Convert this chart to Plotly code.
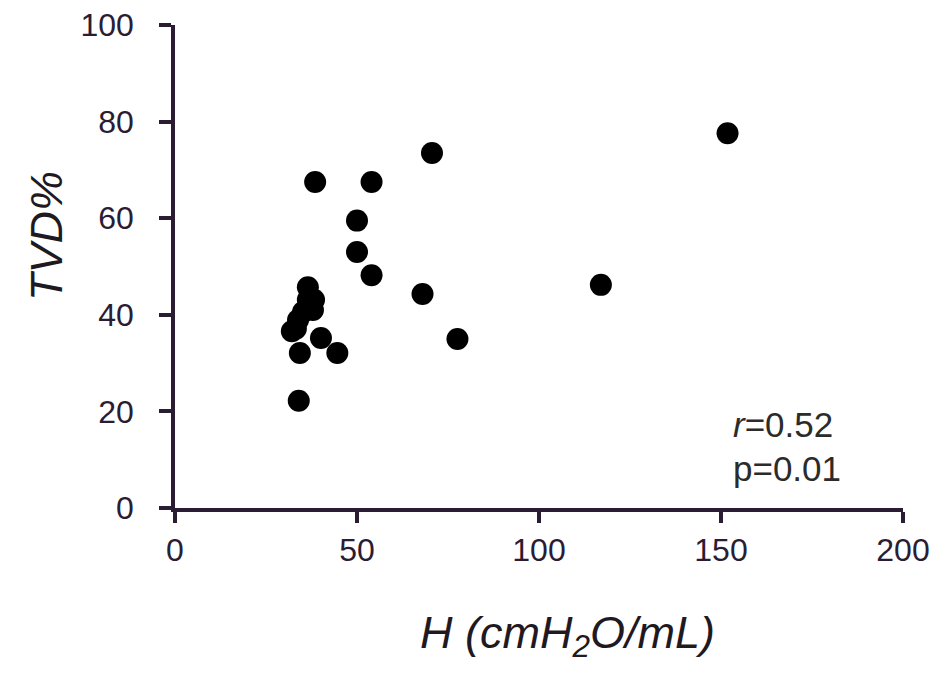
import plotly.graph_objects as go

h_values = [151.8, 117.0, 77.6, 68.0, 70.6, 54.0, 50.0, 50.0, 54.0, 38.5,
            34.0, 34.3, 44.6, 40.1,
            36.5, 38.2, 37.9, 36.5, 35.2, 33.8, 33.2, 32.1]
tvd_values = [77.6, 46.2, 35.0, 44.3, 73.5, 67.5, 59.5, 53.0, 48.2, 67.5,
              22.2, 32.1, 32.1, 35.2,
              45.7, 43.1, 41.0, 43.1, 40.6, 38.9, 37.1, 36.6]
x_ticks = [0, 50, 100, 150, 200]
y_ticks = [0, 20, 40, 60, 80, 100]

axis_color = "#2a1d33"
text_color = "#2b2b2b"
tick_font = dict(family="Liberation Sans, Arial", size=32, color=axis_color)
title_font = dict(family="Liberation Sans, Arial", size=45, color="#1f1a22")

W, H = 934, 688
L, T, R_edge, B_edge = 175, 25, 903, 508
pw, ph = R_edge - L, B_edge - T


def px_x(p):
    return (p - L) / pw


def px_y(p):
    return (B_edge - p) / ph


fig = go.Figure()
fig.add_trace(go.Scatter(
    x=h_values, y=tvd_values, mode="markers",
    marker=dict(size=22, color="black", line=dict(width=0)),
    cliponaxis=False, showlegend=False,
))

fig.update_layout(
    width=W, height=H,
    margin=dict(l=L, r=W - R_edge, t=T, b=H - B_edge, autoexpand=False),
    paper_bgcolor="white", plot_bgcolor="white",
    xaxis=dict(range=[0, 200], tickvals=x_ticks, showgrid=False, zeroline=False,
               showline=True, linecolor=axis_color, linewidth=3.5,
               ticks="outside", ticklen=11, tickwidth=3.5, tickcolor=axis_color,
               tickfont=tick_font, ticklabelstandoff=0, automargin=False,
               ticklabeloverflow="allow"),
    yaxis=dict(range=[0, 100], tickvals=y_ticks, showgrid=False, zeroline=False,
               showline=True, linecolor=axis_color, linewidth=3.5,
               ticks="outside", ticklen=12, tickwidth=3.5, tickcolor=axis_color,
               tickfont=tick_font, ticklabelstandoff=19, automargin=False,
               ticklabeloverflow="allow"),
    annotations=[
        dict(text="<i>H (cmH<sub>2</sub>O/mL)</i>", xref="paper", yref="paper",
             x=px_x(567), y=px_y(635), xanchor="center", yanchor="middle",
             showarrow=False, font=title_font),
        dict(text="<i>TVD%</i>", xref="paper", yref="paper", textangle=-90,
             x=px_x(46), y=px_y(236), xanchor="center", yanchor="middle",
             showarrow=False, font=title_font),
        dict(text="<i>r</i>=0.52", xref="paper", yref="paper",
             x=px_x(731), y=px_y(425), xanchor="left", yanchor="middle",
             showarrow=False, font=dict(family="Liberation Sans, Arial", size=35, color=text_color)),
        dict(text="p=0.01", xref="paper", yref="paper",
             x=px_x(731), y=px_y(468), xanchor="left", yanchor="middle",
             showarrow=False, font=dict(family="Liberation Sans, Arial", size=35, color=text_color)),
    ],
)

fig.write_html("out.html", config={"displayModeBar": False},
               post_script="document.body.style.margin='0px';document.body.style.overflow='hidden';")
